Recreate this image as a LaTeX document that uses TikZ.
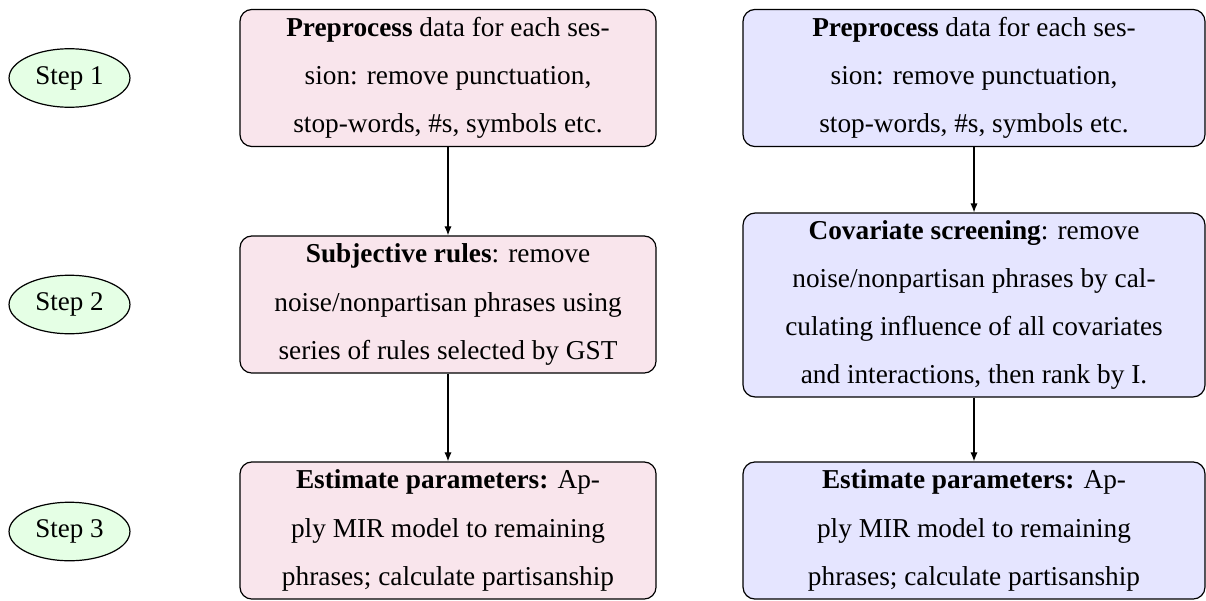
\documentclass[tikz,border=0pt]{standalone}
\usepackage{fontspec}
\setmainfont{Liberation Serif}
\usetikzlibrary{shapes.geometric,arrows.meta}
\begin{document}
\begin{tikzpicture}[x=0.33333pt,y=-0.33333pt,
  box/.style={draw, rounded corners=4pt, align=center, font=\fontsize{9.1}{16.1}\selectfont, inner sep=0pt},
  lbox/.style={box, fill=purple!10, minimum width=138.7pt, minimum height=45.7pt},
  rbox/.style={box, fill=blue!10, minimum width=154pt, minimum height=45.7pt},
  stepnode/.style={ellipse, draw, fill=green!10, minimum width=40.3pt, minimum height=19.5pt, font=\fontsize{9}{11}\selectfont, inner sep=0pt},
  arr/.style={-{Latex[length=3pt,width=2.4pt]}}]
\useasboundingbox (0,0) rectangle (1206,600);
% step labels
\node[stepnode] (s1) at (69.5,78) {Step 1};
\node[stepnode] (s2) at (69.5,304.5) {Step 2};
\node[stepnode] (s3) at (69.5,531.5) {Step 3};
% left column
\node[lbox] (l1) at (448,78) {\textbf{Preprocess} data for each ses-\\sion: remove punctuation,\\stop-words, \#s, symbols etc.};
\node[lbox] (l2) at (448,304.5) {\textbf{Subjective rules}: remove\\noise/nonpartisan phrases using\\series of rules selected by GST};
\node[lbox] (l3) at (448,530.5) {\textbf{Estimate parameters:} Ap-\\ply MIR model to remaining\\phrases; calculate partisanship};
% right column
\node[rbox] (r1) at (974,78) {\textbf{Preprocess} data for each ses-\\sion: remove punctuation,\\stop-words, \#s, symbols etc.};
\node[rbox, minimum height=61.3pt] (r2) at (974,305) {\textbf{Covariate screening}: remove\\noise/nonpartisan phrases by cal-\\culating influence of all covariates\\and interactions, then rank by I.};
\node[rbox] (r3) at (974,530.5) {\textbf{Estimate parameters:} Ap-\\ply MIR model to remaining\\phrases; calculate partisanship};
% connectors
\draw[arr] (l1) -- (l2);
\draw[arr] (l2) -- (l3);
\draw[arr] (r1) -- (r2);
\draw[arr] (r2) -- (r3);
\end{tikzpicture}
\end{document}
